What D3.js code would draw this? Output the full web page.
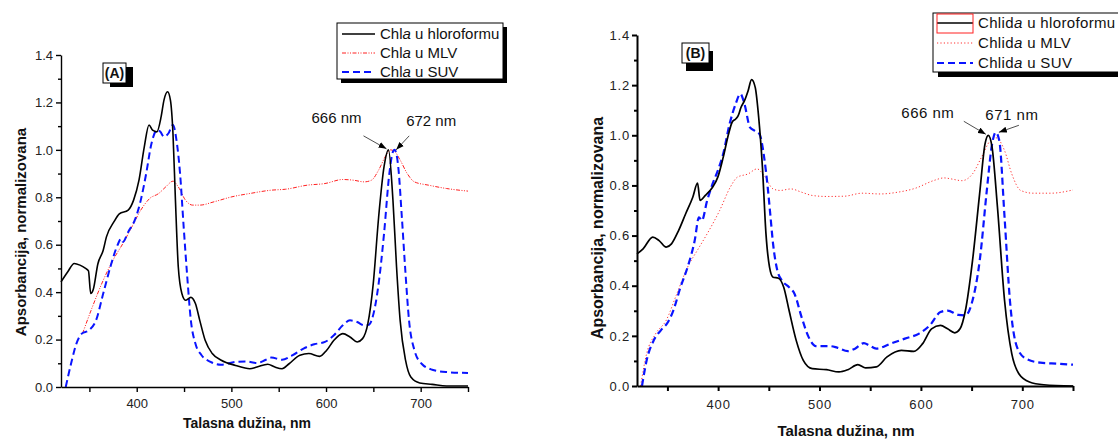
<!DOCTYPE html>
<html><head><meta charset="utf-8">
<script src="https://cdn.jsdelivr.net/npm/d3@7"></script>
<style>body{margin:0;background:#fff} svg{display:block} text{font-family:"Liberation Sans",Arial,sans-serif}</style>
</head><body><svg id="c" width="1118" height="439"></svg>
<script>
// ---------- data ----------
const wlDomain = [320, 750];
const yDomain = [0, 1.4];
const xTickValues = [350, 400, 450, 500, 550, 600, 650, 700, 750];
const xTickLabels = [400, 500, 600, 700];
const yTickValues = [0, 0.2, 0.4, 0.6, 0.8, 1.0, 1.2, 1.4];
const yMinorTicks = [0.1, 0.3, 0.5, 0.7, 0.9, 1.1, 1.3];
const xTitle = "Talasna dužina, nm";
const yTitle = "Apsorbancija, normalizovana";

// Panel A: Chl a
const aChloroform = [[320,0.443],[327,0.485],[334,0.521],[340,0.514],[346,0.50],[349,0.49],[351.4,0.394],[354,0.41],[359,0.52],[364.6,0.577],[368,0.633],[376,0.697],[381.6,0.73],[391,0.746],[396.7,0.788],[402.4,0.872],[408,1.013],[413,1.105],[416.7,1.083],[421.3,1.076],[425.8,1.14],[428.8,1.21],[432.6,1.245],[435.6,1.21],[438.3,1.069],[440.9,0.788],[443.9,0.507],[447.7,0.394],[451.5,0.366],[457.2,0.378],[462,0.352],[466.6,0.281],[472.3,0.197],[479.8,0.141],[489.3,0.113],[504.4,0.091],[519.5,0.077],[527,0.084],[538.4,0.096],[546,0.084],[553.5,0.077],[561,0.098],[572.4,0.134],[581.8,0.141],[593.2,0.129],[600.7,0.155],[608.3,0.197],[617.7,0.225],[625.3,0.211],[632.9,0.19],[638.6,0.204],[644.2,0.267],[649.9,0.436],[655.6,0.717],[661.3,0.929],[666,1.0],[670.7,0.788],[674.5,0.507],[678.3,0.281],[684,0.113],[689.6,0.042],[699,0.017],[712.2,0.011],[727.3,0.004],[750,0.004]];
const aMLV = [[342.7,0.225],[353.2,0.338],[364.6,0.45],[375.9,0.542],[385.4,0.605],[394.8,0.675],[404.3,0.746],[413.7,0.795],[423.2,0.816],[430.7,0.844],[438.3,0.868],[443.9,0.844],[451.5,0.788],[459.1,0.767],[466.6,0.767],[481.7,0.781],[500.6,0.802],[519.5,0.816],[542.2,0.83],[557.3,0.834],[580,0.851],[598.9,0.858],[617.7,0.875],[629.1,0.872],[640.4,0.865],[648,0.872],[655.6,0.915],[663.1,0.975],[668,1.0],[672,0.995],[678.3,0.957],[685.8,0.90],[693.4,0.865],[708.5,0.851],[727.3,0.837],[750,0.826]];
const aSUV = [[325,0.0],[330.6,0.098],[336.3,0.183],[342,0.225],[349.5,0.239],[357,0.281],[364.6,0.394],[372.2,0.507],[379.7,0.598],[383.5,0.625],[385.4,0.612],[391,0.654],[398.6,0.71],[404.3,0.788],[410,0.90],[415.6,1.027],[421.3,1.083],[425,1.076],[428.8,1.055],[433.4,1.069],[438.3,1.105],[442,1.041],[445.8,0.90],[449.6,0.675],[453.4,0.464],[457.2,0.281],[462,0.183],[468.5,0.134],[478,0.106],[489.3,0.094],[504.4,0.106],[515.7,0.108],[527,0.101],[536.5,0.115],[542.2,0.124],[553.5,0.115],[564.8,0.134],[576.2,0.162],[587.5,0.18],[598.9,0.19],[608.3,0.218],[617.7,0.26],[625.3,0.281],[632.9,0.274],[640.4,0.26],[645,0.262],[648,0.28],[655.6,0.436],[661.3,0.647],[666.9,0.90],[670.7,0.992],[672.6,1.0],[676.3,0.929],[680.1,0.717],[684,0.478],[687.7,0.281],[693.4,0.155],[701,0.098],[712.2,0.073],[727.3,0.063],[750,0.059]];
const aLegend = [["Chl", "a", " u hloroformu"], ["Chl", "a", " u MLV"], ["Chl", "a", " u SUV"]];
const aPeaks = [{label: "666 nm", wl: 666, v: 1.0}, {label: "672 nm", wl: 672, v: 1.0}];

// Panel B: Chlid a
const bChloroform = [[320,0.527],[326,0.547],[335.5,0.594],[341.8,0.58],[348.8,0.554],[354,0.567],[361,0.62],[368,0.687],[375,0.753],[379.7,0.809],[382.2,0.74],[387.4,0.76],[394.5,0.793],[399.7,0.833],[405,0.912],[410.3,1.005],[413.8,1.052],[417.3,1.065],[419.8,1.078],[422.6,1.112],[426,1.138],[429.6,1.178],[433,1.222],[436.6,1.191],[440,1.072],[443.7,0.873],[447.2,0.607],[450.7,0.474],[454.2,0.434],[459.5,0.43],[464.7,0.394],[470,0.301],[477,0.182],[484,0.102],[492.8,0.069],[506.9,0.065],[519.2,0.056],[528,0.065],[537.8,0.085],[545.5,0.072],[556,0.076],[566.6,0.116],[580.7,0.142],[593,0.138],[601.7,0.169],[610.5,0.228],[619.3,0.242],[626.3,0.228],[633.4,0.212],[638.6,0.228],[643.9,0.301],[650.9,0.50],[657.9,0.766],[663.2,0.965],[666.5,1.0],[670.2,0.952],[675.5,0.713],[682.5,0.341],[689.6,0.129],[696.6,0.049],[707.1,0.016],[721.2,0.005],[750,0.0]];
const bMLV = [[323.5,0.0],[329.5,0.129],[338.3,0.208],[348.8,0.262],[359.3,0.368],[369.9,0.474],[380.4,0.547],[391,0.62],[401.5,0.70],[412,0.793],[419,0.833],[429.6,0.846],[438.4,0.866],[445.4,0.839],[454.2,0.786],[461.2,0.78],[471.8,0.786],[482.3,0.773],[492.8,0.76],[506.9,0.756],[524.5,0.757],[542,0.769],[559.6,0.766],[577.2,0.773],[594.7,0.789],[612.3,0.819],[622.8,0.83],[629.8,0.826],[640.4,0.819],[650.9,0.846],[659.7,0.912],[668.5,0.979],[674,0.99],[682.5,0.939],[689.6,0.846],[698.4,0.78],[710.7,0.769],[728.2,0.769],[750,0.782]];
const bSUV = [[324.9,0.0],[329.5,0.102],[336.5,0.182],[343.5,0.222],[350.6,0.255],[355.8,0.301],[362.9,0.394],[369.9,0.474],[376.9,0.58],[381.1,0.673],[383.9,0.66],[389.2,0.74],[394.5,0.806],[399.7,0.859],[405,0.926],[411.3,1.045],[417.3,1.125],[421.9,1.165],[426,1.125],[431.4,1.032],[435.9,1.019],[440.8,1.005],[445.4,0.912],[448.9,0.793],[451.4,0.687],[454.2,0.567],[458.4,0.461],[463,0.421],[470,0.394],[475.3,0.368],[482.3,0.275],[489.3,0.195],[496.4,0.159],[510.4,0.159],[517.4,0.153],[528,0.139],[535,0.149],[543.8,0.171],[549,0.162],[556,0.149],[570.1,0.169],[584.2,0.189],[598.2,0.209],[608.8,0.242],[619.3,0.295],[626.3,0.301],[636.9,0.284],[643.9,0.282],[650.9,0.341],[658,0.50],[665,0.78],[670.2,0.965],[673.8,1.012],[677.3,0.979],[682.5,0.673],[687.8,0.341],[694.8,0.155],[703.6,0.109],[717.7,0.093],[735.2,0.089],[750,0.085]];
const bLegend = [["Chlid", "a", " u hloroformu"], ["Chlid", "a", " u MLV"], ["Chlid", "a", " u SUV"]];
const bPeaks = [{label: "666 nm", wl: 666, v: 1.0}, {label: "671 nm", wl: 671, v: 1.0}];

// ---------- layout / style ----------
const panels = [
  {tag: "(A)", series: [aChloroform, aMLV, aSUV], legend: aLegend, peaks: aPeaks,
   left: 61, right: 468, top: 55, bottom: 387, axisW: 1.4, tick: 5, minorTick: 3, xPad: 7, yPad: 3,
   tickFont: 13, tickLS: 0, titleFont: 14, yTitleFont: 15, xTitleX: 247, xTitleY: 428, yTitleX: 20, yTitleY: 232,
   styles: [{c: "#000", w: 1.6, d: null}, {c: "#ff2020", w: 1, d: "4,1.5,1,1.5,1,1.5"}, {c: "#0a14ff", w: 2, d: "7,4"}],
   leg: {x: 337, y: 23, w: 166, h: 56, sx: 4, sy: 4, rows: [34, 53, 72], lx0: 342, lx1: 375, tx: 380, font: 15, ls: 0, redBox: false},
   tagBox: {x: 103, y: 63, w: 23, h: 20, sx: 7, sy: 4},
   ann: [{tx: -52, ty: -27, ax0: -25, ay0: -14, ax1: -2, ay1: -1}, {tx: 37, ty: -24, ax0: 15, ay0: -14, ax1: 2, ay1: 0}], annFont: 15, annLS: 0},
  {tag: "(B)", series: [bChloroform, bMLV, bSUV], legend: bLegend, peaks: bPeaks,
   left: 637, right: 1073, top: 35, bottom: 386, axisW: 2, tick: 5, minorTick: 3, xPad: 9, yPad: 2,
   tickFont: 13, tickLS: 0.8, titleFont: 15, yTitleFont: 16, xTitleX: 846, xTitleY: 436, yTitleX: 597, yTitleY: 228,
   styles: [{c: "#000", w: 1.7, d: null}, {c: "#ff3030", w: 1, d: "1.2,2.2"}, {c: "#0a14ff", w: 2.2, d: "7,4"}],
   leg: {x: 933, y: 13, w: 200, h: 59, sx: 5, sy: 5, rows: [23, 43, 63], lx0: 937, lx1: 973, tx: 978, font: 15, ls: 0.35, redBox: true},
   tagBox: {x: 682, y: 43, w: 27, h: 20, sx: 4, sy: 8},
   ann: [{tx: -60, ty: -17, ax0: -24, ay0: -14, ax1: -2, ay1: -1}, {tx: 19, ty: -15, ax0: 26, ay0: -10, ax1: 6, ay1: -3}], annFont: 15, annLS: 0.5}
];

const svg = d3.select("#c");
svg.append("defs").append("marker").attr("id", "ah").attr("markerUnits", "userSpaceOnUse")
  .attr("markerWidth", 9).attr("markerHeight", 7).attr("refX", 8).attr("refY", 3.5).attr("orient", "auto")
  .append("path").attr("d", "M0,0.5 L8,3.5 L0,6.5 z").attr("fill", "#000");

function drawPanel(p) {
  const x = d3.scaleLinear().domain(wlDomain).range([p.left, p.right]);
  const y = d3.scaleLinear().domain(yDomain).range([p.bottom, p.top]);
  const g = svg.append("g");

  // curves
  const line = d3.line().x(d => x(d[0])).y(d => y(d[1])).curve(d3.curveMonotoneX);
  [1, 2, 0].forEach(i => {
    const s = p.styles[i];
    g.append("path").datum(p.series[i]).attr("d", line).attr("fill", "none")
      .attr("stroke", s.c).attr("stroke-width", s.w).attr("stroke-dasharray", s.d)
      .attr("stroke-linejoin", "round");
  });

  // axes
  const xa = g.append("g").attr("transform", `translate(0,${p.bottom})`)
    .call(d3.axisBottom(x).tickValues(xTickValues).tickSize(p.tick).tickSizeOuter(0).tickPadding(p.xPad)
      .tickFormat(d => xTickLabels.includes(d) ? String(d) : ""));
  const ya = g.append("g").attr("transform", `translate(${p.left},0)`)
    .call(d3.axisLeft(y).tickValues(yTickValues).tickSize(p.tick).tickSizeOuter(0).tickPadding(p.yPad)
      .tickFormat(d3.format(".1f")));
  const ym = g.append("g").attr("transform", `translate(${p.left},0)`)
    .call(d3.axisLeft(y).tickValues(yMinorTicks).tickSize(p.minorTick).tickFormat(""));
  ym.select(".domain").remove();
  [xa, ya, ym].forEach(a => {
    a.attr("font-family", null).attr("font-size", p.tickFont);
    a.selectAll("path,line").attr("stroke", "#000").attr("stroke-width", p.axisW);
    a.selectAll("text").attr("fill", "#222").attr("letter-spacing", p.tickLS);
  });

  // axis titles
  g.append("text").attr("x", p.xTitleX).attr("y", p.xTitleY).attr("text-anchor", "middle")
    .attr("font-weight", "bold").attr("font-size", p.titleFont).attr("fill", "#111").text(xTitle);
  g.append("text").attr("transform", `translate(${p.yTitleX},${p.yTitleY}) rotate(-90)`)
    .attr("text-anchor", "middle").attr("dominant-baseline", "central")
    .attr("font-weight", "bold").attr("font-size", p.yTitleFont).attr("fill", "#111").text(yTitle);

  // tag box
  const t = p.tagBox;
  g.append("rect").attr("x", t.x + t.sx).attr("y", t.y + t.sy).attr("width", t.w).attr("height", t.h).attr("fill", "#000");
  g.append("rect").attr("x", t.x).attr("y", t.y).attr("width", t.w).attr("height", t.h).attr("fill", "#fff").attr("stroke", "#000").attr("stroke-width", 1);
  g.append("text").attr("x", t.x + t.w / 2).attr("y", t.y + t.h / 2 + 5).attr("text-anchor", "middle")
    .attr("font-weight", "bold").attr("font-size", 14).attr("fill", "#111").text(p.tag);

  // legend
  const L = p.leg;
  g.append("rect").attr("x", L.x + L.sx).attr("y", L.y + L.sy).attr("width", L.w).attr("height", L.h).attr("fill", "#000");
  g.append("rect").attr("x", L.x).attr("y", L.y).attr("width", L.w).attr("height", L.h).attr("fill", "#fff").attr("stroke", "#000").attr("stroke-width", 1);
  p.legend.forEach((lab, i) => {
    const s = p.styles[i], ry = L.rows[i];
    g.append("line").attr("x1", L.lx0).attr("x2", L.lx1).attr("y1", ry).attr("y2", ry)
      .attr("stroke", s.c).attr("stroke-width", s.w).attr("stroke-dasharray", s.d);
    const tx = g.append("text").attr("x", L.tx).attr("y", ry + 5).attr("font-size", L.font)
      .attr("fill", "#111").attr("letter-spacing", L.ls);
    tx.append("tspan").text(lab[0]);
    tx.append("tspan").attr("font-style", "italic").text(lab[1]);
    tx.append("tspan").text(lab[2]);
  });
  if (L.redBox) {
    g.append("rect").attr("x", L.lx0).attr("y", L.rows[0] - 9).attr("width", L.lx1 - L.lx0).attr("height", 19)
      .attr("fill", "none").attr("stroke", "#ff2020").attr("stroke-width", 1);
  }

  // peak annotations
  p.peaks.forEach((pk, i) => {
    const a = p.ann[i], px = x(pk.wl), py = y(pk.v);
    g.append("line").attr("x1", px + a.ax0).attr("y1", py + a.ay0).attr("x2", px + a.ax1).attr("y2", py + a.ay1)
      .attr("stroke", "#222").attr("stroke-width", 0.8).attr("marker-end", "url(#ah)");
    g.append("text").attr("x", px + a.tx).attr("y", py + a.ty).attr("text-anchor", "middle")
      .attr("font-size", p.annFont).attr("letter-spacing", p.annLS).attr("fill", "#111").text(pk.label);
  });
}
panels.forEach(drawPanel);
</script></body></html>
